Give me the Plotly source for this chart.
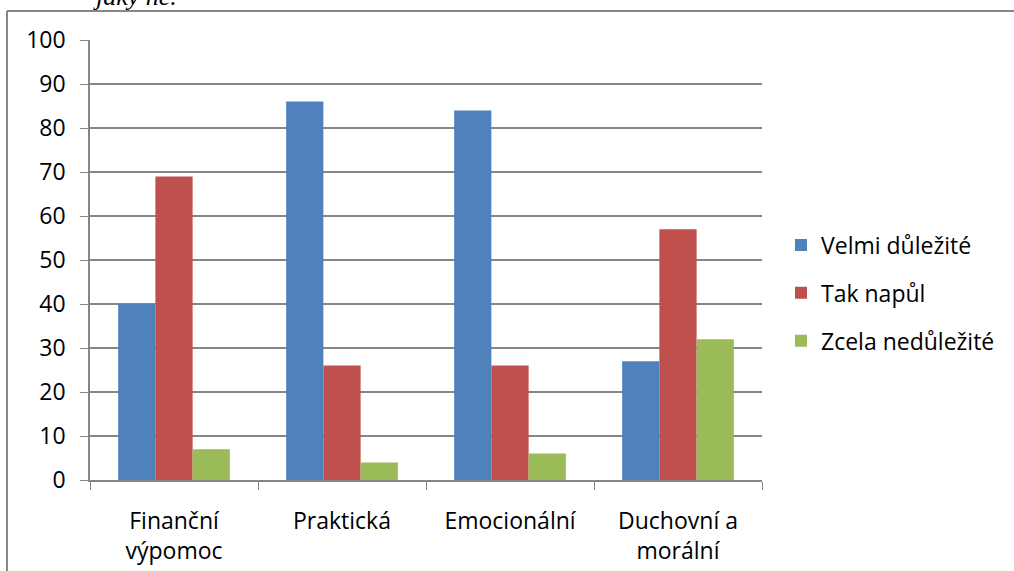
import plotly.graph_objects as go

# Survey categories and percentages per answer
categories = ["Finanční<br>výpomoc", "Praktická", "Emocionální", "Duchovní a<br>morální"]
series_names = ["Velmi důležité", "Tak napůl", "Zcela nedůležité"]
velmi = [40, 86, 84, 27]
napul = [69, 26, 26, 57]
zcela = [7, 4, 6, 32]
y_ticks = [0, 10, 20, 30, 40, 50, 60, 70, 80, 90, 100]

colors = ["#4F81BD", "#C0504D", "#9BBB59"]
font_family = "Open Sans, Noto Sans, sans-serif"
grey = "#868686"

fig = go.Figure()
for i, (name, vals) in enumerate(zip(series_names, [velmi, napul, zcela])):
    fig.add_trace(go.Bar(
        x=categories, y=vals, name=name,
        marker=dict(color=colors[i], line=dict(width=0)),
        legendgroup=f"g{i}",
    ))

W, H = 1014, 571
L, R, T, B = 90, 252, 40, 91
pw, ph = W - L - R, H - T - B

def px_x(p):
    return (p - L) / pw

def px_y(p):
    return (H - B - p) / ph

fig.update_layout(
    width=W, height=H,
    margin=dict(l=L, r=R, t=T, b=B, autoexpand=False),
    paper_bgcolor="white", plot_bgcolor="white",
    barmode="group", bargap=0.335, bargroupgap=0,
    font=dict(family=font_family, size=23, color="#000000"),
    legend=dict(
        x=px_x(781), xanchor="left", y=px_y(293), yanchor="middle",
        font=dict(size=23), tracegroupgap=15, itemwidth=30,
        bgcolor="rgba(0,0,0,0)",
    ),
    xaxis=dict(
        showline=True, linecolor=grey, linewidth=1.5, automargin=False,
        ticks="outside", tickson="boundaries", ticklen=8, tickcolor=grey,
        tickfont=dict(size=23), showgrid=False, ticklabelstandoff=20,
    ),
    yaxis=dict(
        range=[0, 100], tickvals=y_ticks, showline=True, linecolor=grey, linewidth=1.5,
        ticks="outside", ticklen=8, tickcolor=grey, ticklabelstandoff=10,
        showgrid=True, gridcolor=grey, gridwidth=1.5, zeroline=False,
        tickfont=dict(size=23), automargin=False,
    ),
    showlegend=True,
)

# Outer chart frame (left and top edges visible)
fig.add_shape(type="line", xref="paper", yref="paper",
              x0=px_x(7), x1=px_x(7), y0=px_y(11), y1=px_y(H + 5),
              line=dict(color=grey, width=2))
fig.add_shape(type="line", xref="paper", yref="paper",
              x0=px_x(7), x1=px_x(W + 5), y0=px_y(11), y1=px_y(11),
              line=dict(color=grey, width=2))

# Caption fragment above the frame
fig.add_annotation(
    text="<i>jaký ne.</i>", xref="paper", yref="paper",
    x=px_x(91), xanchor="left", y=px_y(13), yanchor="bottom",
    showarrow=False, font=dict(family="Liberation Serif, serif", size=26, color="#000000"),
)

fig.write_html("out.html")
